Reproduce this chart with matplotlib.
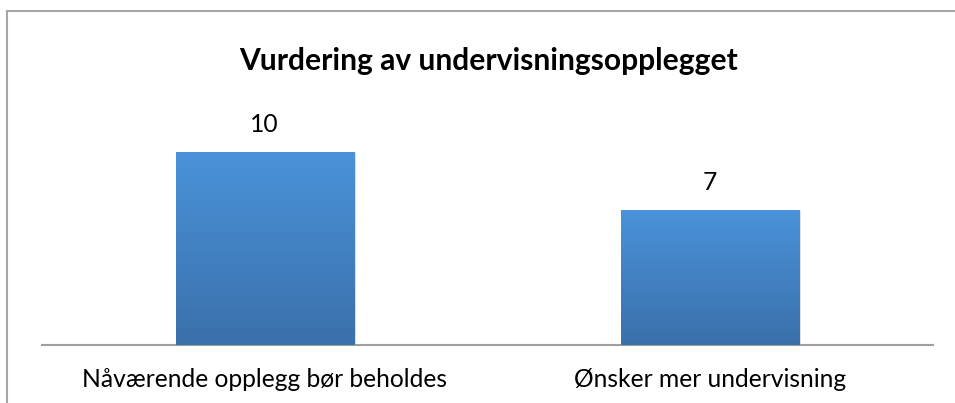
import matplotlib
matplotlib.use("Agg")
import matplotlib.pyplot as plt
import numpy as np
from matplotlib.lines import Line2D
from matplotlib.colors import LinearSegmentedColormap

categories = ["Nåværende opplegg bør beholdes", "Ønsker mer undervisning"]
values = [10, 7]
title = "Vurdering av undervisningsopplegget"

W, H = 955, 403
FONT = "Lato"
fig = plt.figure(figsize=(W / 100, H / 100), dpi=100)
fig.patch.set_facecolor("white")

# outer chart border (right/bottom sides are outside the image)
border_c = "#a6a6a6"
fig.add_artist(Line2D([7 / W, 7 / W], [0, 1 - 11 / H], color=border_c, lw=1.5))
fig.add_artist(Line2D([7 / W, 1], [1 - 11 / H, 1 - 11 / H], color=border_c, lw=1.5))

ax = fig.add_axes([42 / W, 1 - 344.5 / H, (933 - 42) / W, (344.5 - 100) / H])
for s in ["top", "right", "left"]:
    ax.spines[s].set_visible(False)
ax.spines["bottom"].set_color("#a0a0a0")
ax.spines["bottom"].set_linewidth(1.5)
ax.set_yticks([])
x = np.arange(len(categories))
ax.set_xticks(x)
ax.set_xticklabels(categories, fontsize=17.7, family=FONT, color="black")
ax.tick_params(axis="x", length=0, pad=17)

cmap = LinearSegmentedColormap.from_list("g", ["#3a70aa", "#4a92da"])
grad = np.linspace(0, 1, 256).reshape(-1, 1)
bars = ax.bar(x, values, width=0.4, color="#4382c6", zorder=2)
for b in bars:
    bx, by = b.get_x(), b.get_y()
    bw, bh = b.get_width(), b.get_height()
    # soft shadow
    ax.bar(bx + bw / 2 + 0.004, bh, width=bw, bottom=-0.05, color="#000000", alpha=0.12, zorder=1)
    im = ax.imshow(grad, extent=[bx, bx + bw, by, by + bh], origin="lower",
                   cmap=cmap, aspect="auto", zorder=3)
    im.set_clip_path(b)
    ax.text(bx + bw / 2, bh + 0.85, str(int(bh)), ha="center", va="bottom",
            fontsize=17.7, family=FONT, color="black")
ax.set_xlim(-0.5, 1.5)
ax.set_ylim(0, 244.5 / 19.2)

fig.text(489 / W, 1 - 61 / H, title, ha="center", va="center",
         fontsize=21.6, fontweight="bold", family=FONT)

fig.savefig("out.png", dpi=100, facecolor="white")
